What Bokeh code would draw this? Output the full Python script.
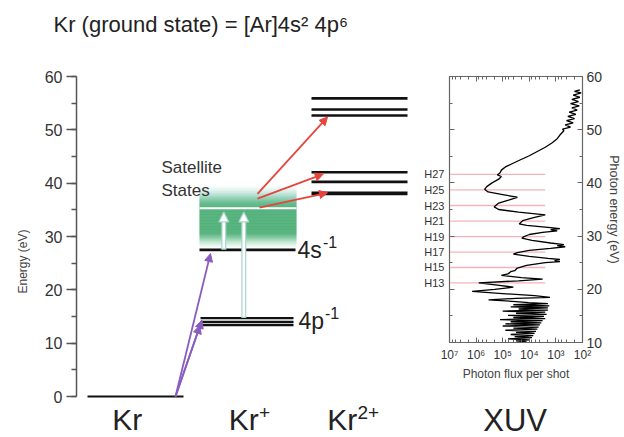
import numpy as np
from bokeh.plotting import figure
from bokeh.layouts import row, column
from bokeh.models import (Range1d, Label, Arrow, NormalHead, LinearAxis, LogAxis, Title,
                          SingleIntervalTicker, FixedTicker, LogTicker, ColumnDataSource)
from bokeh.embed import file_html
from bokeh.resources import INLINE

FONT = "Liberation Sans"

# ---------------- level energies (eV) ----------------
kr_ground = [0.0]
kr_plus_4p = [14.7, 14.0, 13.4]
kr_plus_4s = [27.5]
kr_2plus = [55.9, 53.8, 52.7, 42.05, 40.25, 38.1]
satellite_bottom = 27.8
satellite_top = 39.6
satellite_divider = 35.3

# ---------------- transitions (eV) ----------------
photoion_start = 0.0
photoion_targets = [26.8, 14.3, 13.3]
pump_starts = [27.5, 14.7]
pump_end = 34.6
auger_starts = [38.0, 37.1, 35.4]
auger_ends = [52.4, 41.7, 38.2]

# ---------------- XUV spectrum: photon energy (eV) vs log10 photon flux ----------------
xuv_energy = [
    57.5, 57.2, 56.9, 56.5, 56.1, 55.7, 55.3, 54.9, 54.5, 54.1, 53.7, 53.3, 52.9, 52.5,
    52.1, 51.7, 51.3, 50.9, 50.5, 50.1, 49.8, 49.0, 48.3, 47.5, 46.7, 45.9, 45.1, 44.3,
    43.6, 43.0, 42.4, 41.9, 41.5, 41.2, 40.7, 40.0, 39.3, 38.8, 38.3, 37.8, 37.3, 36.8,
    36.2, 35.5, 35.0, 34.5, 34.0, 33.5, 32.9, 32.3, 32.0, 31.6, 31.4, 31.2, 31.0, 30.7,
    30.3, 29.9, 29.6, 29.2, 28.7, 28.4, 28.2, 28.0, 27.7, 27.3, 26.9, 26.6, 26.2, 25.8,
    25.6, 25.4, 25.2, 25.0, 24.5, 24.0, 23.5, 23.3, 22.9, 22.6, 22.2, 21.9, 21.6, 21.2,
    20.8, 20.4, 20.0, 19.6, 19.2, 18.8, 18.5, 18.3, 18.0, 17.7, 17.5,
    17.3, 17.1, 16.9, 16.7, 16.5, 16.3, 16.1, 15.9, 15.7, 15.5, 15.3, 15.1, 14.9, 14.7,
    14.5, 14.3, 14.1, 13.9, 13.7, 13.5, 13.3, 13.1, 12.9, 12.7, 12.5, 12.3, 12.1, 11.9,
    11.7, 11.5, 11.3, 11.1, 10.9, 10.7, 10.5, 10.3, 10.1,
]
xuv_log_flux = [
    2.10, 2.30, 2.05, 2.35, 2.10, 2.40, 2.15, 2.45, 2.12, 2.40, 2.20, 2.50, 2.25, 2.55,
    2.30, 2.60, 2.35, 2.65, 2.45, 2.75, 2.70, 2.85, 2.95, 3.15, 3.40, 3.70, 4.00, 4.35,
    4.65, 4.90, 5.05, 5.10, 5.20, 5.05, 5.15, 5.40, 5.60, 5.68, 5.55, 5.00, 4.45, 4.75,
    5.15, 5.32, 5.15, 4.40, 3.40, 3.80, 4.25, 4.38, 4.10, 3.20, 2.85, 3.20, 2.95, 3.50,
    4.00, 4.20, 4.28, 3.90, 3.20, 2.70, 2.95, 2.65, 3.20, 4.00, 4.45, 4.60, 4.00, 3.30,
    2.85, 3.05, 2.85, 3.40, 4.10, 4.45, 4.55, 4.70, 4.80, 5.05, 4.30, 3.50, 4.40, 5.90,
    5.20, 4.60, 5.30, 6.15, 5.00, 3.80, 3.22, 4.50, 5.53, 4.50, 4.03,
    3.30, 4.60, 3.25, 4.70, 3.30, 4.40, 3.30, 5.00, 3.40, 4.50, 3.35, 4.80, 3.45, 4.60,
    3.40, 5.10, 3.50, 4.70, 3.55, 4.90, 3.60, 5.00, 3.65, 4.60, 3.70, 4.90, 3.75, 4.50,
    3.80, 4.70, 3.85, 4.55, 3.90, 4.80, 4.00, 4.50, 4.10,
]

harmonic_labels = ["H13", "H15", "H17", "H19", "H21", "H23", "H25", "H27"]
harmonic_energy = [21.2, 24.1, 27.0, 29.9, 32.8, 35.75, 38.7, 41.6]
harmonic_line_end_log = 3.4

flux_ticks = [1e7, 1e6, 1e5, 1e4, 1e3, 1e2]
flux_tick_labels = ["10\u2077", "10\u2076", "10\u2075", "10\u2074", "10\u00b3", "10\u00b2"]

# ---------------- colours ----------------
LEVEL = "#111111"
PURPLE = "#8a5cc0"
RED = "#e5453d"
TEAL_EDGE = "#a9d6cb"
AXIS = "#555555"
TEXT = "#222222"

H = 437
W1 = 420
W2 = 624 - W1

# ================= level diagram (x in screen pixels, y in eV) =================
PX_PER_EV = 320 / 60
ZERO_PX = 396
TOP1 = 40
p1 = figure(width=W1, height=H, x_range=Range1d(76, W1),
            y_range=Range1d(-(H - ZERO_PX) / PX_PER_EV, (ZERO_PX - TOP1) / PX_PER_EV),
            x_axis_location=None, toolbar_location=None, output_backend="svg",
            min_border_left=76, min_border_right=0, min_border_top=TOP1, min_border_bottom=0)
p1.outline_line_color = None
p1.grid.visible = False
p1.title = Title(text="Kr (ground state) = [Ar]4s\u00b2 4p\u2076", align="left", offset=-23,
                 text_font=FONT, text_font_size="22px", text_font_style="normal",
                 text_color=TEXT, standoff=8)

ax = p1.yaxis[0]
ax.bounds = (0, 60)
ax.ticker = SingleIntervalTicker(interval=10, num_minor_ticks=2)
ax.axis_line_color = AXIS
ax.axis_line_width = 1.5
ax.major_tick_line_color = AXIS
ax.minor_tick_line_color = AXIS
ax.major_tick_line_width = 1.5
ax.minor_tick_line_width = 1.5
ax.major_tick_out = 10
ax.major_tick_in = 0
ax.minor_tick_out = 5
ax.minor_tick_in = 0
ax.major_label_text_font = FONT
ax.major_label_text_font_size = "16px"
ax.major_label_text_color = "#333333"
ax.major_label_standoff = 4

# rotated energy caption on the left, placed along the lower part of the axis
p1.add_layout(Title(text="Energy (eV)", align="left", offset=H - 293, vertical_align="bottom",
                    text_font=FONT, text_font_size="12px", text_font_style="normal",
                    text_color="#444444", standoff=24), "left")

# column extents (px)
KR_X = (87, 183)
KRP_X = (199, 295)
KR2_X = (311, 407)

# satellite band with vertical colour fade
stops_e = [satellite_bottom, 28.3, 29.0, 29.8, 30.6, 35.5, 36.3, 37.1, 37.9, 38.6, 39.2, satellite_top]
stops_rgb = np.array([
    [255, 255, 255], [228, 244, 234], [170, 220, 190], [90, 185, 130], [26, 152, 80],
    [26, 152, 80], [48, 163, 102], [100, 190, 150], [165, 215, 200], [210, 235, 228],
    [238, 247, 245], [255, 255, 255]], dtype=float)
edges = np.arange(satellite_bottom, satellite_top + 1e-9, 0.08)
mids = 0.5 * (edges[:-1] + edges[1:])
cols = []
for m in mids:
    rgb = [np.interp(m, stops_e, stops_rgb[:, k]) for k in range(3)]
    cols.append("#%02x%02x%02x" % tuple(int(round(c)) for c in rgb))
p1.quad(left=KRP_X[0], right=KRP_X[1] + 1, bottom=edges[:-1], top=edges[1:],
        fill_color=cols, line_color=None)
p1.segment(x0=KRP_X[0], x1=KRP_X[1] + 1, y0=satellite_divider, y1=satellite_divider,
           line_color="white", line_width=1.8)

# energy levels
p1.segment(x0=KR_X[0], x1=KR_X[1], y0=kr_ground, y1=kr_ground, line_color=LEVEL, line_width=2)
p1.segment(x0=KRP_X[0] + 1, x1=KRP_X[1] - 2, y0=kr_plus_4p, y1=kr_plus_4p,
           line_color=LEVEL, line_width=2.4)
p1.segment(x0=KRP_X[0], x1=KRP_X[1], y0=kr_plus_4s, y1=kr_plus_4s, line_color=LEVEL, line_width=2.6)
kr2_width = [2.6, 2.6, 2.6, 2.6, 2.6, 3.8]
p1.segment(x0=KR2_X[0], x1=KR2_X[1], y0=kr_2plus, y1=kr_2plus, line_color=LEVEL,
           line_width=kr2_width)

# XUV pump arrows (white with pale teal edge)
pump_x = [223.3, 243.3]
p1.segment(x0=pump_x, x1=pump_x, y0=pump_starts, y1=[pump_end - 1.2] * 2,
           line_color=TEAL_EDGE, line_width=5)
p1.segment(x0=pump_x, x1=pump_x, y0=[s + 0.25 for s in pump_starts], y1=[pump_end - 1.0] * 2,
           line_color="white", line_width=2.6)
for x, s in zip(pump_x, pump_starts):
    p1.add_layout(Arrow(x_start=x, y_start=s, x_end=x, y_end=pump_end, line_alpha=0,
                        end=NormalHead(size=10, fill_color="white", line_color=TEAL_EDGE,
                                       line_width=1.2)))

# photoionisation arrows from the ground state
pi_src = ColumnDataSource(dict(x0=[175.0] * 3, y0=[photoion_start] * 3,
                               x1=[210.0, 201.5, 199.5], y1=photoion_targets))
p1.add_layout(Arrow(x_start="x0", y_start="y0", x_end="x1", y_end="y1", source=pi_src,
                    line_color=PURPLE, line_width=1.8,
                    end=NormalHead(size=8, fill_color=PURPLE, line_color=PURPLE)))

# Auger decay arrows into Kr2+
au_src = ColumnDataSource(dict(x0=[257.0, 257.0, 259.0], y0=auger_starts,
                               x1=[327.0, 322.7, 327.0], y1=auger_ends))
p1.add_layout(Arrow(x_start="x0", y_start="y0", x_end="x1", y_end="y1", source=au_src,
                    line_color=RED, line_width=1.8,
                    end=NormalHead(size=8, fill_color=RED, line_color=RED)))


def e_of(px):
    return (ZERO_PX - px) / PX_PER_EV


def lab(p, x, y, text, size, color=TEXT, align="left"):
    p.add_layout(Label(x=x, y=y, text=text, text_font=FONT, text_font_size=size,
                       text_align=align, text_baseline="alphabetic", text_color=color))


def lab1(x, base_px, text, size, color=TEXT):
    # base_px: wanted baseline in page pixels; rendered text sits ~0.32 em low
    fs = float(size.rstrip("px"))
    lab(p1, x, e_of(base_px - 0.32 * fs), text, size, color)


lab1(161, 172.7, "Satellite", "17px", color="#333333")
lab1(161, 195.0, "States", "17px", color="#333333")
lab1(297, 256.7, "4s", "23px")
lab1(322.5, 246.5, "-1", "16px")
lab1(298, 328.3, "4p", "23px")
lab1(324.5, 318.0, "-1", "16px")
lab1(111.7, 428.3, "Kr", "30px")
lab1(228.3, 428.3, "Kr", "30px")
lab1(258.5, 418.5, "+", "19px")
lab1(326.7, 428.3, "Kr", "30px")
lab1(357.0, 418.5, "2+", "19px")

# ================= XUV spectrum panel =================
FRAME_L, FRAME_R, FRAME_T, FRAME_B = 449, 583, 76, 342
H2 = 395
p2 = figure(width=W2, height=H2, x_axis_type="log", x_range=Range1d(1e7, 1e2),
            y_range=Range1d(10, 60), y_axis_location="right",
            toolbar_location=None, output_backend="svg",
            min_border_left=FRAME_L - W1, min_border_right=624 - FRAME_R,
            min_border_top=FRAME_T, min_border_bottom=H2 - FRAME_B)
p2.grid.visible = False
p2.outline_line_color = "#666666"
p2.outline_line_width = 1.2

flux = [10 ** v for v in xuv_log_flux]
p2.segment(x0=1e7, x1=10 ** harmonic_line_end_log, y0=harmonic_energy, y1=harmonic_energy,
           line_color="#f4b4be", line_width=1.3)
p2.line(x=flux, y=xuv_energy, line_color="black", line_width=1.3)


def style_box_axis(a):
    a.axis_line_color = "#666666"
    a.major_tick_line_color = "#666666"
    a.minor_tick_line_color = "#666666"
    a.major_tick_in = 5
    a.major_tick_out = 0
    a.minor_tick_in = 3
    a.minor_tick_out = 0


def hide_labels(a):
    a.major_label_text_alpha = 0
    a.major_label_text_font_size = "1px"
    a.major_label_standoff = 0


ry = p2.yaxis[0]
style_box_axis(ry)
ry.ticker = SingleIntervalTicker(interval=10, num_minor_ticks=2)
ry.major_label_text_font = FONT
ry.major_label_text_font_size = "14px"
ry.major_label_text_color = "#333333"
ry.major_label_standoff = 4
ry.axis_label = "Photon energy (eV)"
ry.axis_label_text_font = FONT
ry.axis_label_text_font_size = "12.5px"
ry.axis_label_text_font_style = "normal"
ry.axis_label_text_color = "#444444"
ry.axis_label_standoff = 2

bx = p2.xaxis[0]
style_box_axis(bx)
bx.ticker = LogTicker()
bx.major_label_overrides = {t: s for t, s in zip(flux_ticks, flux_tick_labels)}
bx.major_label_text_font = FONT
bx.major_label_text_font_size = "12px"
bx.major_label_text_color = "#333333"
bx.major_label_standoff = 5
bx.axis_label = "Photon flux per shot"
bx.axis_label_text_font = FONT
bx.axis_label_text_font_size = "12px"
bx.axis_label_text_font_style = "normal"
bx.axis_label_text_color = "#444444"
bx.axis_label_standoff = 2

top = LogAxis(ticker=LogTicker())
style_box_axis(top)
hide_labels(top)
p2.add_layout(top, "above")

mirror = LinearAxis(ticker=SingleIntervalTicker(interval=10, num_minor_ticks=2))
style_box_axis(mirror)
hide_labels(mirror)
p2.add_layout(mirror, "left")

hax = LinearAxis(ticker=FixedTicker(ticks=harmonic_energy),
                 major_label_overrides={e: s for e, s in zip(harmonic_energy, harmonic_labels)},
                 axis_line_color=None, major_tick_line_color=None, minor_tick_line_color=None,
                 major_tick_in=0, major_tick_out=0, minor_tick_in=0, minor_tick_out=0,
                 major_label_text_font=FONT, major_label_text_font_size="11px",
                 major_label_text_color="#333333", major_label_standoff=5)
p2.add_layout(hax, "left")

# ================= "XUV" caption strip under the spectrum (x, y in page pixels) =================
H3 = H - H2
p3 = figure(width=W2, height=H3, x_range=Range1d(W1, 624), y_range=Range1d(H, H2),
            x_axis_location=None, y_axis_location=None, toolbar_location=None,
            output_backend="svg", min_border_left=0, min_border_right=0,
            min_border_top=0, min_border_bottom=0)
p3.outline_line_color = None
p3.grid.visible = False
lab(p3, 520.7, 430.0 - 0.32 * 31, "XUV", "31px", align="center")

layout = row(p1, column(p2, p3))
open("out.html", "w").write(file_html(layout, INLINE))
